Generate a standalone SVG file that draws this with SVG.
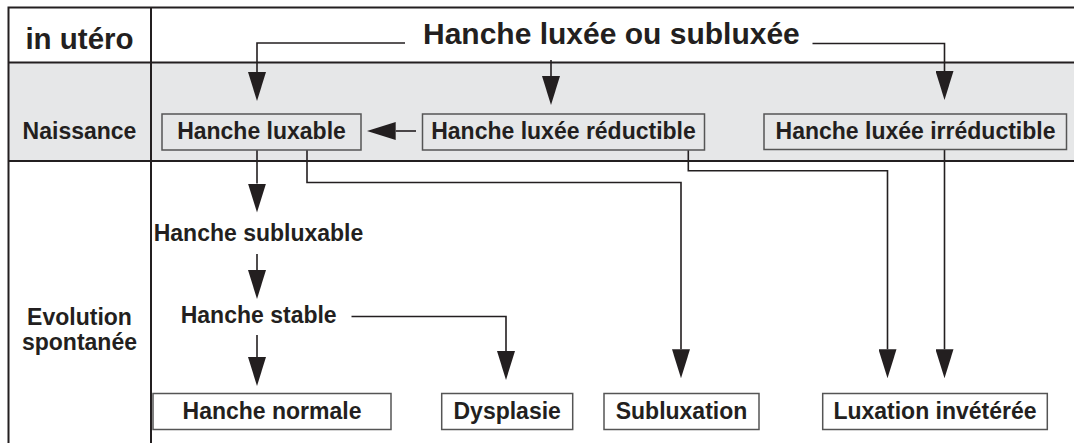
<svg xmlns="http://www.w3.org/2000/svg" width="1074" height="443" viewBox="0 0 1074 443">
<style>
text{font-family:"Liberation Sans",Arial,sans-serif;font-weight:bold;fill:#231f20}
.t{font-size:23px;text-anchor:middle}
.big{font-size:29.5px}
.title{font-size:30px}
.frame{stroke:#231f20;stroke-width:2;fill:none}
.box{fill:none;stroke:#555;stroke-width:1.5}
.wbox{fill:#fff;stroke:#555;stroke-width:1.5}
.c{fill:none;stroke:#231f20;stroke-width:1.6}
.a{marker-end:url(#ah)}
</style>
<defs>
<marker id="ah" markerUnits="userSpaceOnUse" viewBox="0 0 29 18" markerWidth="29" markerHeight="18" refX="0" refY="9" orient="auto">
<path d="M0,0 L29,9 L0,18 z" fill="#231f20"/>
</marker>
</defs>
<rect width="1074" height="443" fill="#fff"/>
<g id="grid">
<rect x="8.5" y="62.5" width="1066" height="98.5" fill="#e6e7e8"/>
<path class="frame" d="M8.5,443 V7.5 H1074 M151,7.5 V443 M8.5,62.5 H1074 M8.5,161 H1074"/>
</g>
<g id="row-labels">
<text class="t big" x="79.5" y="49">in utéro</text>
<text class="t" x="79.5" y="139">Naissance</text>
<text class="t" x="79.5" y="325">Evolution</text>
<text class="t" x="79.5" y="350">spontanée</text>
</g>
<g id="connectors">
<polyline class="c a" points="405,43 257,43 257,72"/>
<polyline class="c a" points="551,60 551,76"/>
<polyline class="c a" points="812.5,43.5 944.5,43.5 944.5,71"/>
<polyline class="c a" points="416,131 395.7,131"/>
<polyline class="c a" points="257,150 257,183.5"/>
<polyline class="c a" points="257,254 257,270"/>
<polyline class="c a" points="257,335 257,357"/>
<polyline class="c a" points="351.5,316.5 506,316.5 506,351"/>
<polyline class="c a" points="307,150 307,182.5 681,182.5 681,349.3"/>
<polyline class="c a" points="688.3,150 688.3,170.7 887.5,170.7 887.5,349.3"/>
<polyline class="c a" points="944.5,149.5 944.5,349.3"/>
</g>
<g id="title"><text class="title" x="423" y="44">Hanche luxée ou subluxée</text></g>
<g id="luxable"><rect class="box" x="162" y="114" width="199" height="36"/><text class="t" x="261.5" y="139.3">Hanche luxable</text></g>
<g id="reductible"><rect class="box" x="422.5" y="114" width="282" height="36"/><text class="t" x="563.5" y="139.3">Hanche luxée réductible</text></g>
<g id="irreductible"><rect class="box" x="764" y="114" width="302.5" height="35.5"/><text class="t" x="915.5" y="139.3">Hanche luxée irréductible</text></g>
<g id="subluxable"><text class="t" x="258.5" y="240.7">Hanche subluxable</text></g>
<g id="stable"><text class="t" x="258.7" y="323.3">Hanche stable</text></g>
<g id="normale"><rect class="wbox" x="153" y="393.5" width="238" height="36"/><text class="t" x="272" y="419.3">Hanche normale</text></g>
<g id="dysplasie"><rect class="wbox" x="441.7" y="393.5" width="131" height="36"/><text class="t" x="507.2" y="419.3">Dysplasie</text></g>
<g id="subluxation"><rect class="wbox" x="604" y="393.5" width="155" height="36"/><text class="t" x="681.5" y="419.3">Subluxation</text></g>
<g id="luxation"><rect class="wbox" x="822.7" y="393.5" width="224.6" height="36"/><text class="t" x="935" y="419.3">Luxation invétérée</text></g>
</svg>
